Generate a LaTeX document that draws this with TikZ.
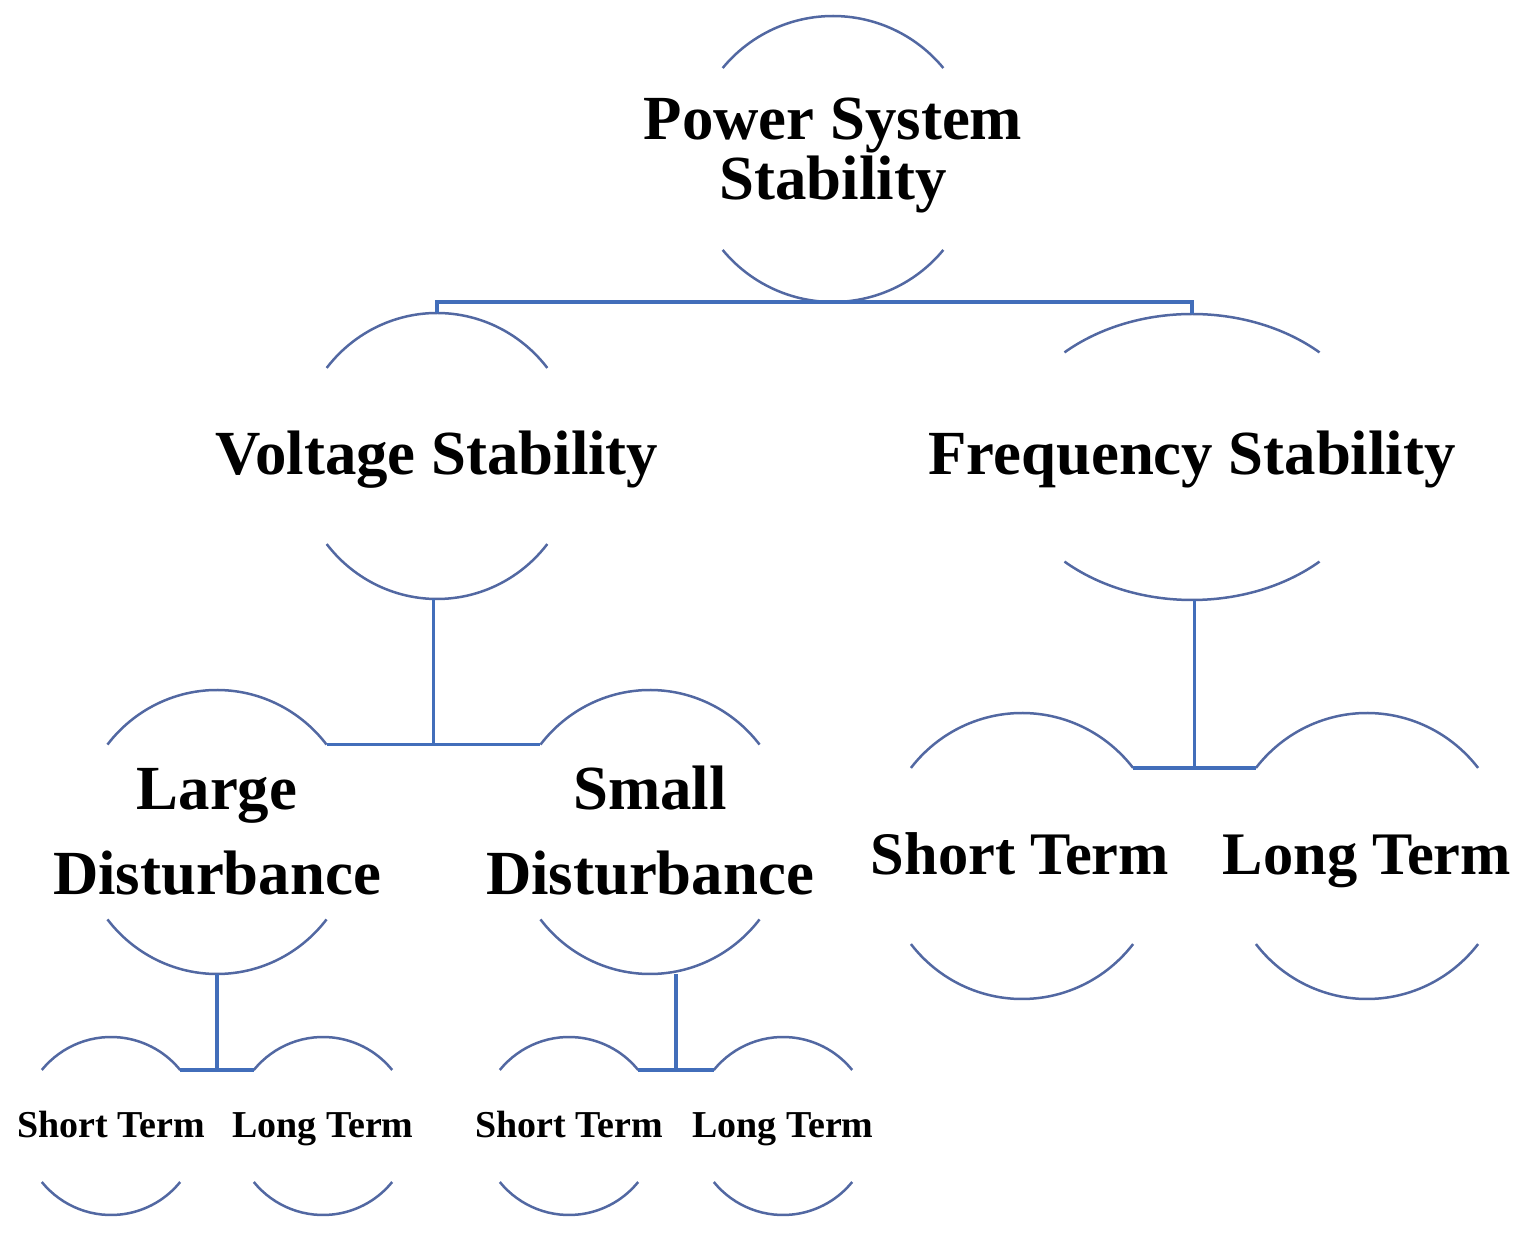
\documentclass[tikz,border=0pt]{standalone}
\usepackage{fontspec}
\setmainfont{Liberation Serif}
\usepackage{tikz}
\usetikzlibrary{positioning}
\usetikzlibrary{calc}

\definecolor{arcblue}{RGB}{82,104,162}
\definecolor{linkblue}{RGB}{66,110,186}

\begin{document}
\begin{tikzpicture}[x=0.5pt,y=0.5pt,
		arcline/.style={draw=arcblue, line width=1.25pt},
		link/.style={draw=linkblue, line width=1.8pt},
		bigtext/.style={font=\fontsize{31.4}{30}\selectfont\bfseries, align=center, inner sep=0pt},
		twoline/.style={font=\fontsize{31.4}{42.5}\selectfont\bfseries, align=center, inner sep=0pt},
		midtext/.style={font=\fontsize{30.2}{36}\selectfont\bfseries, inner sep=0pt},
		smalltext/.style={font=\fontsize{19}{22}\selectfont\bfseries, inner sep=0pt}]
		\useasboundingbox (0,0) rectangle (1528,1233);

		% Define the centres of the circles
		\coordinate (pss) at (833,1074);
		\coordinate (vs) at (437,777);
		\coordinate (fs) at (1192,776);
		\coordinate (ld) at (217,401);
		\coordinate (sd) at (650,401);
		\coordinate (fst) at (1022,377);
		\coordinate (flt) at (1367,377);
		\coordinate (lst) at (111,107);
		\coordinate (llt) at (323,107);
		\coordinate (sst) at (569,107);
		\coordinate (slt) at (783,107);

		% Draw the arcs above and below each text
		\foreach \n/\rx/\ry/\t in {pss/143/143/39.5, vs/140/143/38, fs/187/143/47,
			ld/139/142/38, sd/139/142/38, fst/141/143/38, flt/141/143/38,
			lst/89/89/39, llt/89/89/39, sst/89/89/39, slt/89/89/39} {
			\draw[arcline] ($(\n)+({-\rx*cos(\t)},{\ry*sin(\t)})$) coordinate (\n-tl)
				arc[start angle=180-\t, end angle=\t, x radius=\rx, y radius=\ry] coordinate (\n-tr);
			\draw[arcline] ($(\n)+({-\rx*cos(\t)},{-\ry*sin(\t)})$) coordinate (\n-bl)
				arc[start angle=180+\t, end angle=360-\t, x radius=\rx, y radius=\ry] coordinate (\n-br);
			\coordinate (\n-top) at ($(\n)+(0,\ry)$);
			\coordinate (\n-bot) at ($(\n)-(0,\ry)$);
		}

		% Texts (base of a two line node is the last line)
		\node[bigtext, anchor=base] (pss-txt) at (833,1033) {Power System\\Stability};
		\node[bigtext, anchor=base] (vs-txt) at (437,758) {Voltage Stability};
		\node[bigtext, anchor=base] (fs-txt) at (1192,758) {Frequency Stability};
		\node[twoline, anchor=base] (ld-txt) at (217,338) {Large\\Disturbance};
		\node[twoline, anchor=base] (sd-txt) at (650,338) {Small\\Disturbance};
		\node[midtext, anchor=base] (fst-txt) at (1020,358) {Short Term};
		\node[midtext, anchor=base] (flt-txt) at (1367,358) {Long Term};
		\foreach \n/\label in {lst/Short Term, llt/Long Term, sst/Short Term, slt/Long Term}
			\node[smalltext, anchor=base] (\n-txt) at ($(\n)-(0,12)$) {\label};

		% Draw the lines
		\draw[link] (vs-top) |- (pss-bot) -| (fs-top);
		\foreach \up/\a/\b in {vs/ld/sd, fs/fst/flt, ld/lst/llt, sd/sst/slt} {
			\draw[link] (\a-tr) -- (\b-tl);
			\coordinate (\up-join) at ($(\a-tr)!0.5!(\b-tl)$);
			\draw[link] (\up-join) -- (\up-join |- \up-bot);
		}
	\end{tikzpicture}
\end{document}
